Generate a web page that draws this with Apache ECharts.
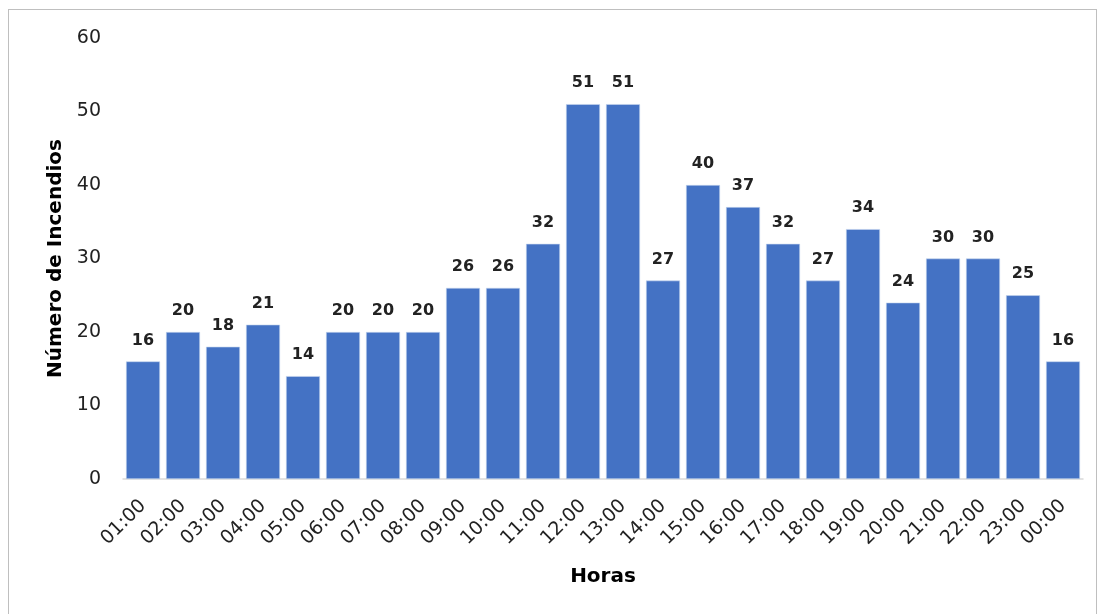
<!DOCTYPE html>
<html>
<head>
<meta charset="utf-8">
<script src="https://cdn.jsdelivr.net/npm/echarts@6/dist/echarts.min.js"></script>
<style>
  html, body { margin: 0; padding: 0; background: #fff; }
  #frame {
    position: absolute; left: 8px; top: 9px; width: 1089px; height: 620px;
    border: 1px solid #bfbfbf; box-sizing: border-box;
  }
  #chart { position: absolute; left: 0; top: 0; width: 1099px; height: 614px; }
</style>
</head>
<body>
<div id="frame"></div>
<div id="chart"></div>
<script>
const horas = ["01:00", "02:00", "03:00", "04:00", "05:00", "06:00", "07:00", "08:00",
  "09:00", "10:00", "11:00", "12:00", "13:00", "14:00", "15:00", "16:00",
  "17:00", "18:00", "19:00", "20:00", "21:00", "22:00", "23:00", "00:00"];
const incendios = [16, 20, 18, 21, 14, 20, 20, 20, 26, 26, 32, 51, 51, 27, 40, 37,
  32, 27, 34, 24, 30, 30, 25, 16];
const yTicks = [0, 10, 20, 30, 40, 50, 60];

const font = "'DejaVu Sans', Verdana, sans-serif";
const chart = echarts.init(document.getElementById("chart"));
chart.setOption({
  animation: false,
  grid: { left: 123, right: 16, top: 38, bottom: 135 },
  xAxis: {
    type: "category",
    data: horas,
    name: "Horas",
    nameLocation: "middle",
    nameGap: 88,
    nameTextStyle: { fontFamily: font, fontWeight: "bold", fontSize: 20, color: "#000" },
    axisLine: { lineStyle: { color: "#d9d9d9", width: 1.5 } },
    axisTick: { show: false },
    axisLabel: { rotate: 45, fontFamily: font, fontSize: 19, color: "#222", margin: 24 }
  },
  yAxis: {
    type: "value",
    min: yTicks[0],
    max: yTicks[yTicks.length - 1],
    interval: 10,
    name: "Número de Incendios",
    nameLocation: "middle",
    nameGap: 56,
    nameTextStyle: { fontFamily: font, fontWeight: "bold", fontSize: 20, color: "#000" },
    axisLine: { show: false },
    axisTick: { show: false },
    splitLine: { show: false },
    axisLabel: { fontFamily: font, fontSize: 19, color: "#222", margin: 22 }
  },
  series: [{
    type: "bar",
    data: incendios,
    barCategoryGap: "15%",
    itemStyle: { color: "#4472c4", borderColor: "#c8d6ef", borderWidth: 0.6 },
    label: {
      show: true,
      position: "top",
      distance: 13,
      fontFamily: font,
      fontWeight: "bold",
      fontSize: 16,
      color: "#222"
    }
  }]
});
</script>
</body>
</html>
